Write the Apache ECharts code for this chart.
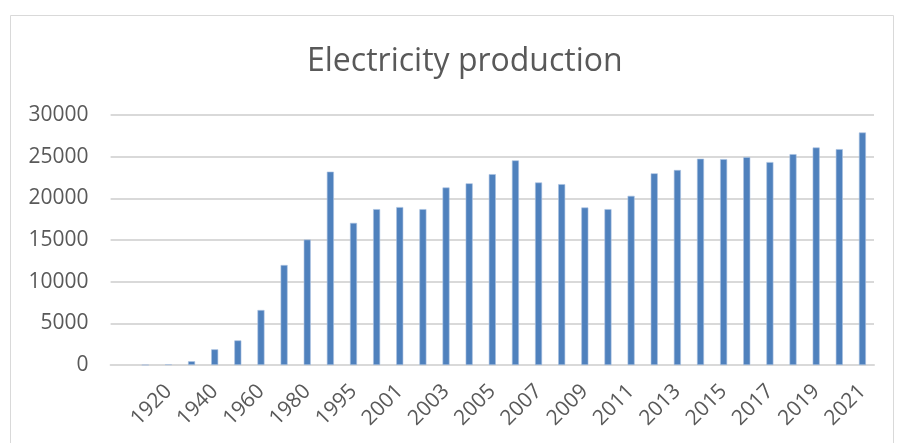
<!DOCTYPE html>
<html>
<head>
<meta charset="utf-8">
<script src="https://cdn.jsdelivr.net/npm/echarts@6/dist/echarts.min.js"></script>
<style>
  html, body { margin: 0; padding: 0; background: #fff; }
  #chart { width: 898px; height: 443px; }
</style>
</head>
<body>
<div id="chart"></div>
<script>
// Years on the category axis (first slot is an unlabeled spacer)
const years = ['', '1910', '1920', '1930', '1940', '1950', '1960', '1970', '1980', '1990', '1995',
  '2000', '2001', '2002', '2003', '2004', '2005', '2006', '2007', '2008', '2009', '2010',
  '2011', '2012', '2013', '2014', '2015', '2016', '2017', '2018', '2019', '2020', '2021'];

// Electricity production per year
const production = [null, 10, 80, 450, 1880, 2950, 6600, 12000, 15050, 23200, 17050,
  18700, 18950, 18700, 21300, 21800, 22900, 24550, 21900, 21700, 18900, 18700,
  20300, 23000, 23400, 24750, 24700, 24950, 24350, 25300, 26100, 25900, 27900];

// Value axis ticks
const yTicks = { min: 0, max: 30000, step: 5000 };

const FONT = '"Open Sans", "Liberation Sans", sans-serif';
const chart = echarts.init(document.getElementById('chart'));
chart.setOption({
  animation: false,
  title: {
    text: 'Electricity production',
    left: 302,
    top: 41,
    textStyle: { fontFamily: FONT, fontSize: 32, fontWeight: 'normal', color: '#595959' }
  },
  graphic: [{
    type: 'rect',
    shape: { x: 10.5, y: 15.5, width: 883, height: 440 },
    style: { fill: 'none', stroke: '#d9d9d9', lineWidth: 1 },
    silent: true
  }],
  grid: { left: 110.6, right: 24, top: 115, bottom: 78, containLabel: false },
  xAxis: {
    type: 'category',
    data: years,
    axisLine: { lineStyle: { color: '#d9d9d9', width: 2 } },
    axisTick: { show: false },
    axisLabel: {
      interval: (i) => i % 2 === 0,
      rotate: 45,
      margin: 23,
      fontFamily: FONT,
      fontSize: 21,
      color: '#595959'
    }
  },
  yAxis: {
    type: 'value',
    min: yTicks.min,
    max: yTicks.max,
    interval: yTicks.step,
    axisLine: { show: false },
    axisTick: { show: false },
    splitLine: { lineStyle: { color: '#d9d9d9', width: 2 } },
    axisLabel: {
      margin: 22,
      fontFamily: FONT,
      fontSize: 21,
      color: '#595959',
      formatter: (v) => String(v)
    }
  },
  series: [{
    type: 'bar',
    data: production,
    barWidth: 7,
    itemStyle: { color: '#4F81BD', borderColor: '#a9c1e0', borderWidth: 0.6 }
  }]
});
</script>
</body>
</html>
